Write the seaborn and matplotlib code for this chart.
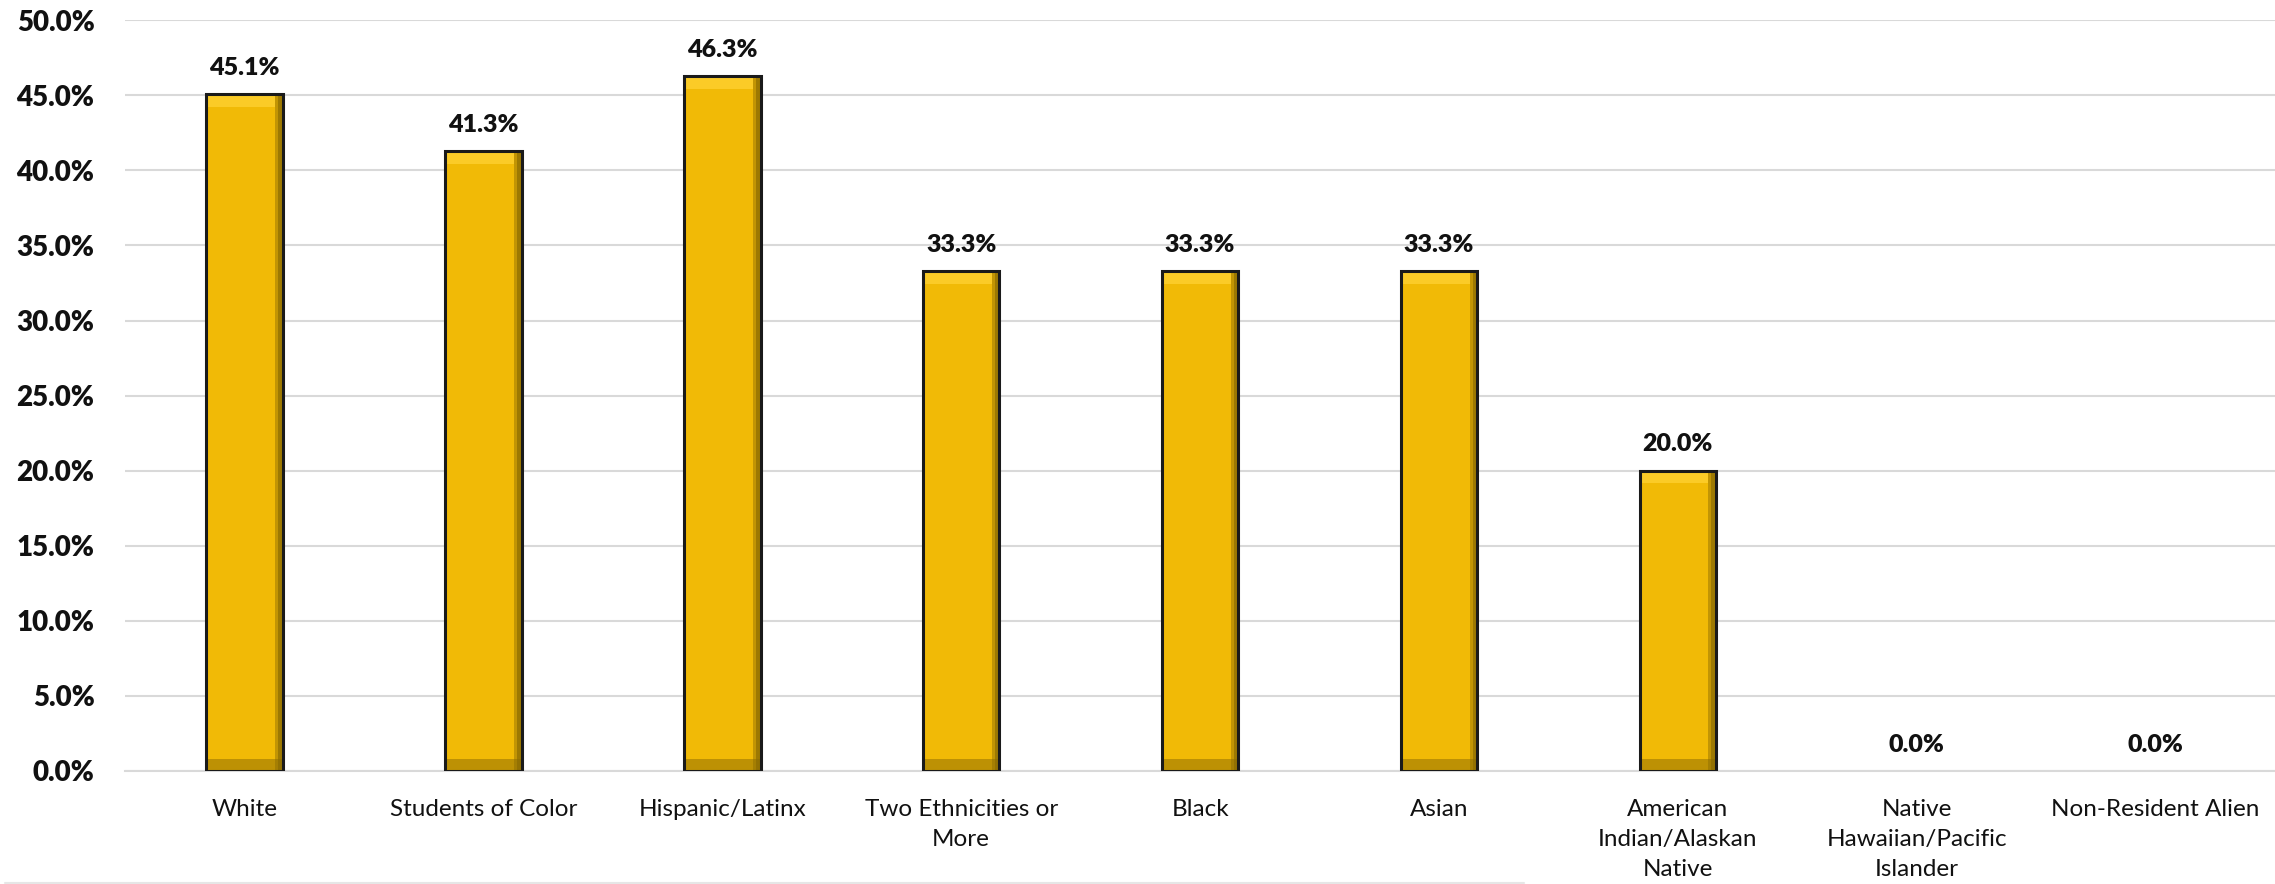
import numpy as np
import pandas as pd
import seaborn as sns
import matplotlib.pyplot as plt
from matplotlib.ticker import PercentFormatter, MultipleLocator

groups = [
    "White",
    "Students of Color",
    "Hispanic/Latinx",
    "Two Ethnicities or\nMore",
    "Black",
    "Asian",
    "American\nIndian/Alaskan\nNative",
    "Native\nHawaiian/Pacific\nIslander",
    "Non-Resident Alien",
]
rates = [45.1, 41.3, 46.3, 33.3, 33.3, 33.3, 20.0, 0.0, 0.0]

df = pd.DataFrame({"group": groups, "rate": rates})

sns.set_style("white")
plt.rcParams["font.family"] = ["Lato", "DejaVu Sans"]

fig = plt.figure(figsize=(22.75, 8.84), dpi=100)
ax = fig.add_axes([0.055, 0.128, 0.945, 0.849])

ax = sns.barplot(
    data=df,
    x="group",
    y="rate",
    color="#F1BA06",
    saturation=1,
    width=0.32,
    linewidth=0,
    ax=ax,
    zorder=3,
)

# bevel-ish shading on each bar, then a dark outline on top
for bar in ax.patches:
    x0, y0 = bar.get_x(), bar.get_y()
    w, h = bar.get_width(), bar.get_height()
    if h <= 0:
        continue
    ax.add_patch(plt.Rectangle((x0 + w * 0.90, y0), w * 0.10, h,
                               color="#8a6a03", alpha=0.45, zorder=4, lw=0))
    ax.add_patch(plt.Rectangle((x0 + w * 0.94, y0), w * 0.06, h,
                               color="#5a4500", alpha=0.35, zorder=4, lw=0))
    ax.add_patch(plt.Rectangle((x0, y0 + h - 0.85), w * 0.9, 0.85,
                               color="#ffd233", alpha=0.75, zorder=4, lw=0))
    ax.add_patch(plt.Rectangle((x0, y0), w, 0.8,
                               color="#8a6a03", alpha=0.5, zorder=4, lw=0))
    ax.add_patch(plt.Rectangle((x0, y0), w, h, fill=False,
                               edgecolor="#1a1a1a", lw=2.2, zorder=5))

ax.bar_label(
    ax.containers[0],
    labels=[f"{v:.1f}%" for v in rates],
    padding=11,
    fontsize=18,
    fontweight="heavy",
    color="#111111",
)

ax.set_ylim(0, 50)
ax.yaxis.set_major_locator(MultipleLocator(5))
ax.yaxis.set_major_formatter(PercentFormatter(decimals=1))
ax.set_xlim(-0.5, len(groups) - 0.5)
ax.grid(axis="y", color="#d9d9d9", linewidth=1.5, zorder=0)
ax.set_axisbelow(True)

for s in ["top", "right", "left"]:
    ax.spines[s].set_visible(False)
ax.spines["bottom"].set_color("#d9d9d9")
ax.spines["bottom"].set_linewidth(1.5)

ax.set_xlabel("")
ax.set_ylabel("")
ax.tick_params(axis="y", length=0, pad=22)
ax.tick_params(axis="x", length=0, pad=20, labelsize=17.5)

yt = ax.get_yticks()
ax.set_yticks(yt)
ax.set_yticklabels([f"{v:.1f}%" for v in yt], fontsize=20,
                   fontweight="heavy", color="#111111")
ax.set_ylim(0, 50)

for t in ax.get_xticklabels():
    t.set_linespacing(1.55)
    t.set_verticalalignment("top")
    t.set_color("#111111")

fig.add_artist(plt.Line2D([0.002, 0.67], [0.001, 0.001], color="#e6e6e6", lw=1.5))

fig.savefig("out.png", dpi=100)
